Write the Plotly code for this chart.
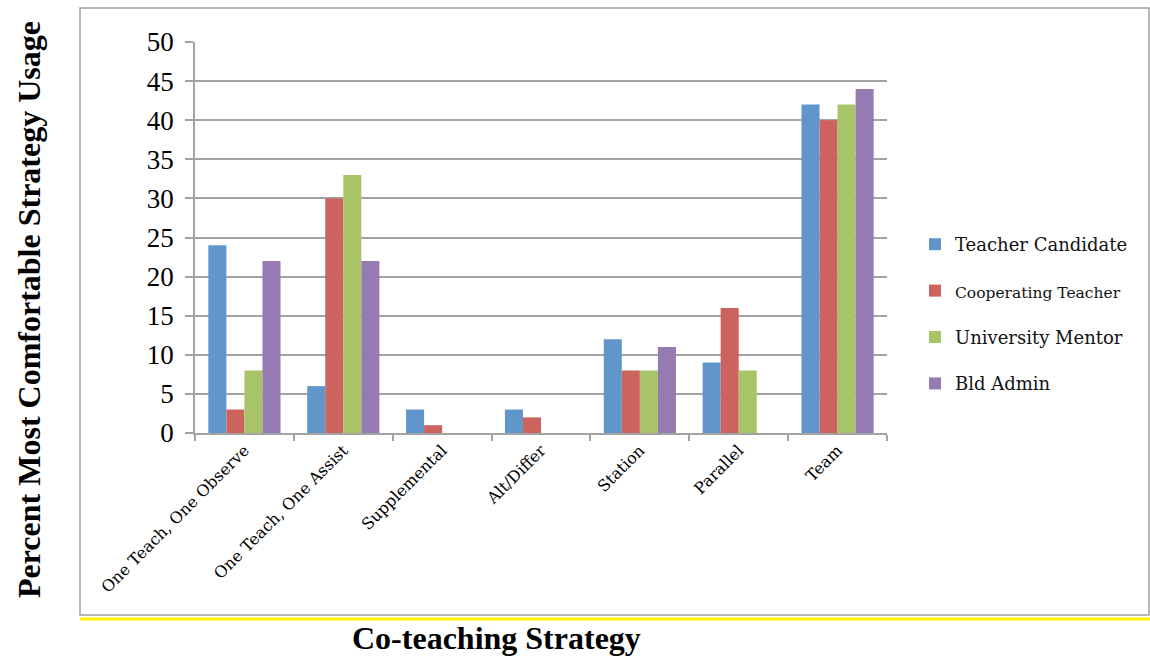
import plotly.graph_objects as go

categories = ["One Teach, One Observe", "One Teach, One Assist", "Supplemental",
              "Alt/Differ", "Station", "Parallel", "Team"]
series_names = ["Teacher Candidate", "Cooperating Teacher", "University Mentor", "Bld Admin"]
teacher_candidate = [24, 6, 3, 3, 12, 9, 42]
cooperating_teacher = [3, 30, 1, 2, 8, 16, 40]
university_mentor = [8, 33, 0, 0, 8, 8, 42]
bld_admin = [22, 22, 0, 0, 11, 0, 44]
y_ticks = [0, 5, 10, 15, 20, 25, 30, 35, 40, 45, 50]

values = [teacher_candidate, cooperating_teacher, university_mentor, bld_admin]
colors = ["#6096C9", "#CD635E", "#A9C468", "#967BB2"]
legend_sizes = [18, 15.5, 18, 18]

W, H = 1150, 656
L, R, T, B = 195, 887, 42, 433  # plot area in px

def px_x(x):
    return (x - L) / (R - L)

def px_y(y):
    return (B - y) / (B - T)

fig = go.Figure()
for i, (name, vals) in enumerate(zip(series_names, values)):
    fig.add_trace(go.Bar(
        x=categories, y=vals, name=f'<span style="font-size:{legend_sizes[i]}px">{name}</span>',
        marker=dict(color=colors[i], line=dict(width=0)),
        legendgroup=f"g{i}",
    ))

grid = "#A3A3A3"
fig.update_layout(
    width=W, height=H,
    margin=dict(l=L, r=W - R, t=T, b=H - B, pad=0, autoexpand=False),
    paper_bgcolor="white", plot_bgcolor="white",
    barmode="group", bargap=0.27, bargroupgap=0,
    showlegend=True,
    legend=dict(x=px_x(915), y=px_y(226), xanchor="left", yanchor="top",
                font=dict(family="DejaVu Serif", size=18, color="#111"),
                tracegroupgap=20, itemwidth=30, bgcolor="rgba(0,0,0,0)"),
    font=dict(family="Liberation Serif", color="#000"),
    xaxis=dict(
        type="category", showline=True, linecolor=grid, linewidth=1.5,
        ticks="outside", tickson="boundaries", ticklen=6, tickcolor=grid, tickwidth=1.5,
        tickangle=-45, tickfont=dict(family="DejaVu Serif", size=16, color="#000"),
        showgrid=False, automargin=False,
    ),
    yaxis=dict(
        range=[0, 50], tickvals=y_ticks, showline=True, linecolor=grid, linewidth=1.5,
        ticks="outside", ticklen=8, tickcolor=grid, tickwidth=1.5,
        showgrid=True, gridcolor=grid, gridwidth=1.5,
        tickfont=dict(family="Liberation Serif", size=27, color="#000"),
        ticklabelstandoff=6, zeroline=False, automargin=False,
    ),
    shapes=[
        dict(type="rect", xref="paper", yref="paper",
             x0=px_x(80), x1=px_x(1149), y0=px_y(615), y1=px_y(8),
             line=dict(color="#A0A0A0", width=1.5), fillcolor="rgba(0,0,0,0)", layer="below"),
        dict(type="line", xref="paper", yref="paper",
             x0=px_x(80), x1=px_x(1150), y0=px_y(619), y1=px_y(619),
             line=dict(color="#FFF200", width=3)),
    ],
    annotations=[
        dict(text="<b>Co-teaching Strategy</b>", xref="paper", yref="paper",
             x=px_x(496), y=px_y(638), showarrow=False, xanchor="center", yanchor="middle",
             font=dict(family="Liberation Serif", size=32, color="#000")),
        dict(text="<b>Percent Most Comfortable Strategy Usage</b>", xref="paper", yref="paper",
             x=px_x(29), y=px_y(310), showarrow=False, xanchor="center", yanchor="middle",
             textangle=-90, font=dict(family="Liberation Serif", size=32, color="#000")),
    ],
)

fig.write_html("out.html")
